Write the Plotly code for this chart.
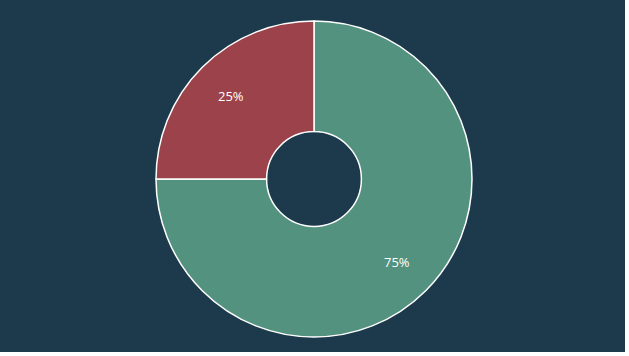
import math
import plotly.graph_objects as go

labels = ["A", "B"]
values = [75, 25]
colors = ["#52927f", "#9c424b"]

W, H = 625, 352
cx, cy, r = 314, 179, 158
label_r = 118  # label distance from centre, px

fig = go.Figure(go.Pie(
    labels=labels,
    values=values,
    hole=0.3,
    sort=False,
    direction="clockwise",
    rotation=0,
    marker=dict(colors=colors, line=dict(color="white", width=1.5)),
    textinfo="none",
    hoverinfo="label+percent",
    showlegend=False,
    domain=dict(x=[(cx - 200) / W, (cx + 200) / W], y=[1 - (cy + r) / H, 1 - (cy - r) / H]),
))

total = sum(values)
start = 0.0
annotations = []
for v in values:
    frac = v / total
    mid = (start + frac / 2) * 2 * math.pi  # clockwise from 12 o'clock
    px = cx + label_r * math.sin(mid)
    py = cy - label_r * math.cos(mid)
    annotations.append(dict(
        x=px / W, y=1 - py / H, xref="paper", yref="paper",
        text=f"{round(frac * 100)}%", showarrow=False,
        font=dict(color="white", size=13, family="Open Sans"),
        xanchor="center", yanchor="middle",
    ))
    start += frac

fig.update_layout(
    width=W, height=H,
    margin=dict(l=0, r=0, t=0, b=0),
    paper_bgcolor="#1d3a4c",
    showlegend=False,
    annotations=annotations,
)

fig.write_html("out.html", config={"displayModeBar": False},
               post_script="document.body.style.margin='0';")
